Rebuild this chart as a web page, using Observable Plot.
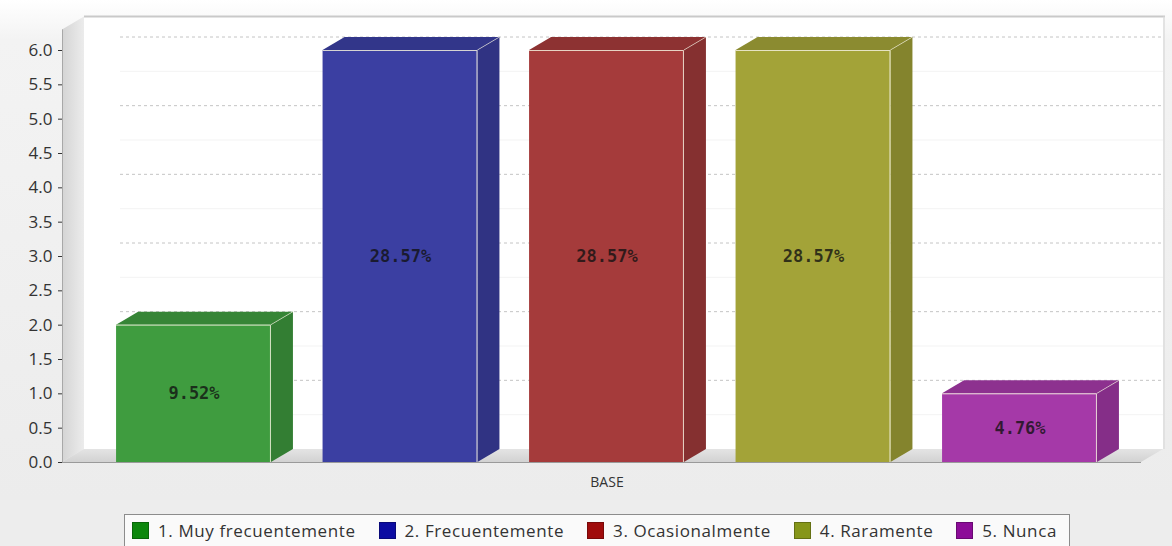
<!DOCTYPE html>
<html><head><meta charset="utf-8">
<script src="https://cdn.jsdelivr.net/npm/d3@7"></script>
<script src="https://cdn.jsdelivr.net/npm/@observablehq/plot@0.6"></script>
<style>
html,body{margin:0;padding:0;}
body{width:1172px;height:546px;overflow:hidden;background:#ededed;font-family:"Open Sans",sans-serif;}
#wrap{position:relative;width:1172px;height:546px;}
#legend{position:absolute;left:124px;top:514px;width:946px;height:36px;box-sizing:border-box;border:1px solid #8c8c8c;background:#fafafa;display:flex;align-items:center;justify-content:space-between;padding:0 12px 4px 7px;font-size:17px;letter-spacing:0.6px;color:#333;}
#legend .it{display:flex;align-items:center;white-space:nowrap;}
#legend .sw{width:17px;height:17px;margin-right:9px;box-sizing:border-box;border:1px solid rgba(0,0,0,0.25);}
</style></head>
<body><div id="wrap"><div id="chart"></div><div id="legend"></div></div>
<script>
// ---- data ----
const categories = ["1. Muy frecuentemente","2. Frecuentemente","3. Ocasionalmente","4. Raramente","5. Nunca"];
const counts = [2, 6, 6, 6, 1];
const pctLabels = ["9.52%","28.57%","28.57%","28.57%","4.76%"];
const yTicks = [0,0.5,1,1.5,2,2.5,3,3.5,4,4.5,5,5.5,6];
const gridMajor = [1,2,3,4,5,6];
const gridMinor = [0.5,1.5,2.5,3.5,4.5,5.5];
const xLabel = "BASE";
const frontColors = ["#3f9c3f","#3b3fa2","#a53b3b","#a3a338","#a539a8"];
const legendColors = ["#0d870d","#0c0ca2","#a00c0c","#86961a","#8c0c98"];

const data = categories.map((c,i)=>({cat:c, value:counts[i], label:pctLabels[i]}));

const W = 1172, H = 500, DX = 22, DY = -13;

const chart = Plot.plot({
  width: W, height: H,
  marginLeft: 62, marginRight: 31, marginTop: 50, marginBottom: 38,
  style: {background: "transparent", fontFamily: "'Open Sans', sans-serif", fontSize: "17px", color: "#333"},
  x: {domain: categories, range: [90.25, 1122.75], paddingInner: 0.25, paddingOuter: 0.125, round: false, axis: null},
  y: {domain: [0, 6], ticks: yTicks, tickFormat: d3.format(".1f"), tickSize: 4, tickPadding: 6, label: null},
  color: {domain: categories, range: frontColors},
  marks: [
    Plot.barY(data, {x: "cat", y: "value", fill: "cat", inset: 0}),
    Plot.text(data, {x: "cat", y: d => d.value / 2, text: "label", fontFamily: "'DejaVu Sans Mono', monospace", fontWeight: "bold", fontSize: 17, fill: "#111", fillOpacity: 0.78}),
    Plot.text([xLabel], {frameAnchor: "bottom", dx: 5, dy: 20, fontSize: 14, fill: "#333", lineAnchor: "middle"})
  ]
});

document.getElementById("chart").appendChild(chart);

// ---- scales from Plot ----
const xs = chart.scale("x"), ys = chart.scale("y");
const bx = xs.apply ? xs.apply : d3.scaleBand().domain(xs.domain).range(xs.range).paddingInner(0.25).paddingOuter(0.125);
const bw = xs.bandwidth;
const yy = ys.apply ? ys.apply : d3.scaleLinear().domain(ys.domain).range(ys.range);

const svg = d3.select(chart);
const defs = svg.insert("defs", ":first-child");
const bg = defs.append("linearGradient").attr("id","bgG").attr("x1",0).attr("y1",0).attr("x2",0).attr("y2",1);
bg.append("stop").attr("offset","0").attr("stop-color","#ffffff");
bg.append("stop").attr("offset","0.08").attr("stop-color","#f3f3f3");
bg.append("stop").attr("offset","1").attr("stop-color","#ececec");
const lw = defs.append("linearGradient").attr("id","lwG").attr("x1",0).attr("y1",0).attr("x2",1).attr("y2",0);
lw.append("stop").attr("offset","0").attr("stop-color","#d4d4d4");
lw.append("stop").attr("offset","1").attr("stop-color","#ececec");
const fl = defs.append("linearGradient").attr("id","flG").attr("x1",0).attr("y1",0).attr("x2",0).attr("y2",1);
fl.append("stop").attr("offset","0").attr("stop-color","#e4e4e4");
fl.append("stop").attr("offset","1").attr("stop-color","#d2d2d2");

const g = svg.insert("g", "defs + *");
const fx0 = 62, fx1 = W - 31;           // front plane horizontal extent
const y0 = yy(0), yTop = yy(6.3);
const poly = pts => pts.map(p => p.join(",")).join(" ");

g.append("rect").attr("x",0).attr("y",0).attr("width",W).attr("height",H).attr("fill","url(#bgG)");
// back wall
g.append("rect").attr("x",fx0+DX).attr("y",yTop+DY).attr("width",fx1-fx0).attr("height",y0-yTop)
  .attr("fill","#ffffff");
g.append("line").attr("x1",fx0+DX).attr("x2",fx1+DX+2).attr("y1",yTop+DY).attr("y2",yTop+DY)
  .attr("stroke","#c9c9c9").attr("stroke-width",2);
g.append("line").attr("x1",fx1+DX+1).attr("x2",fx1+DX+1).attr("y1",yTop+DY).attr("y2",y0+DY)
  .attr("stroke","#dcdcdc").attr("stroke-width",1.5);
// grid lines
gridMinor.forEach(v => g.append("line").attr("x1",120).attr("x2",fx1+DX).attr("y1",yy(v)+DY).attr("y2",yy(v)+DY)
  .attr("stroke","#f3f3f3"));
gridMajor.forEach(v => g.append("line").attr("x1",120).attr("x2",fx1+DX).attr("y1",yy(v)+DY).attr("y2",yy(v)+DY)
  .attr("stroke","#c4c4c4").attr("stroke-dasharray","3,3"));
// left wall
g.append("polygon").attr("points", poly([[fx0,yTop],[fx0+DX,yTop+DY],[fx0+DX,y0+DY],[fx0,y0]])).attr("fill","url(#lwG)");
// floor
g.append("polygon").attr("points", poly([[fx0,y0],[fx1,y0],[fx1+DX,y0+DY],[fx0+DX,y0+DY]])).attr("fill","url(#flG)");
g.append("line").attr("x1",fx0).attr("x2",fx1).attr("y1",y0+0.5).attr("y2",y0+0.5).attr("stroke","#9a9a9a");
g.append("line").attr("x1",fx0+0.5).attr("x2",fx0+0.5).attr("y1",yTop).attr("y2",y0).attr("stroke","#a8a8a8");

// bar side and top faces
data.forEach((d,i) => {
  const x1 = bx(d.cat), x2 = x1 + bw, yv = yy(d.value);
  const c = d3.color(frontColors[i]);
  g.append("polygon").attr("points", poly([[x2,y0],[x2,yv],[x2+DX,yv+DY],[x2+DX,y0+DY]]))
    .attr("fill", c.darker(0.6).formatHex());
  g.append("polygon").attr("points", poly([[x1,yv],[x2,yv],[x2+DX,yv+DY],[x1+DX,yv+DY]]))
    .attr("fill", c.darker(0.45).formatHex());
});
// highlight edges on top of bars
const hl = svg.append("g").attr("fill","none").attr("stroke","#f2eedc").attr("stroke-opacity",0.85).attr("stroke-width",1);
data.forEach((d,i) => {
  const x1 = bx(d.cat), x2 = x1 + bw, yv = yy(d.value);
  hl.append("polyline").attr("points", poly([[x1,yv+0.5],[x2-0.5,yv+0.5],[x2-0.5,y0]]));
  hl.append("line").attr("x1",x2).attr("y1",yv).attr("x2",x2+DX).attr("y2",yv+DY).attr("stroke-opacity",0.6);
});
// move labels on top
svg.selectAll("g[aria-label='text']").raise();

// legend
const leg = d3.select("#legend");
categories.forEach((c,i) => {
  const it = leg.append("div").attr("class","it");
  it.append("div").attr("class","sw").style("background", legendColors[i]);
  it.append("span").text(c);
});
</script>
</body></html>
